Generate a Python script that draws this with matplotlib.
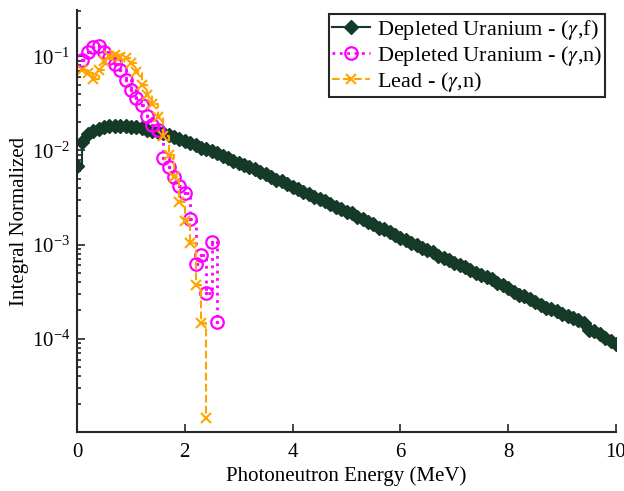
import matplotlib
matplotlib.use('Agg')
import matplotlib.pyplot as plt
import numpy as np

# energy grid (MeV) of the 0.1 MeV bins
e_fission = np.round(np.arange(0, 101) * 0.1, 1)
e_du_n = np.round(np.arange(1, 27) * 0.1, 1)
e_pb_n = np.round(np.arange(1, 25) * 0.1, 1)

# log10 of the normalized integral
du_fission_log = [
    -2.17, -1.91, -1.83, -1.79, -1.77, -1.75, -1.74, -1.74, -1.74, -1.74,
    -1.75, -1.75, -1.76, -1.78, -1.79, -1.80, -1.82, -1.84, -1.86, -1.88,
    -1.90, -1.92, -1.94, -1.97, -1.99, -2.01, -2.03, -2.06, -2.08, -2.11,
    -2.13, -2.15, -2.18, -2.20, -2.23, -2.25, -2.28, -2.31, -2.33, -2.36,
    -2.39, -2.41, -2.44, -2.46, -2.49, -2.52, -2.54, -2.57, -2.60, -2.62,
    -2.65, -2.67, -2.71, -2.73, -2.76, -2.78, -2.82, -2.84, -2.87, -2.90,
    -2.93, -2.95, -2.98, -3.00, -3.04, -3.06, -3.08, -3.12, -3.14, -3.16,
    -3.20, -3.22, -3.24, -3.27, -3.30, -3.32, -3.34, -3.37, -3.41, -3.43,
    -3.46, -3.50, -3.54, -3.55, -3.58, -3.61, -3.64, -3.67, -3.69, -3.71,
    -3.74, -3.76, -3.78, -3.80, -3.83, -3.91, -3.92, -3.95, -3.99, -4.03,
    -4.06,
]
du_n_log = [
    -1.04, -0.95, -0.90, -0.89, -0.95, -1.02, -1.08, -1.15, -1.25, -1.36,
    -1.44, -1.52, -1.63, -1.73, -1.78, -2.08, -2.18, -2.28, -2.38, -2.45,
    -2.73, -3.21, -3.11, -3.51, -2.97, -3.82,
]
pb_n_log = [
    -1.15, -1.18, -1.24, -1.15, -1.05, -1.00, -0.99, -1.01, -1.02, -1.07,
    -1.17, -1.30, -1.41, -1.51, -1.64, -1.85, -2.05, -2.28, -2.55, -2.75,
    -2.98, -3.43, -3.83, -4.84,
]

labels = ['Depleted Uranium - ($\\gamma$,f)',
          'Depleted Uranium - ($\\gamma$,n)',
          'Lead - ($\\gamma$,n)']

plt.rcParams['font.family'] = ['Liberation Serif', 'DejaVu Serif']
plt.rcParams['mathtext.fontset'] = 'stix'
plt.rcParams['font.size'] = 15

fig = plt.figure(figsize=(6.24, 4.91), dpi=100)
ax = fig.add_axes([0.1234, 0.1202, 0.8638, 0.8594])

green = '#153a28'
pink = '#ff00ff'
orange = '#ffa500'

du_f = 10.0 ** np.array(du_fission_log)
du_n = 10.0 ** np.array(du_n_log)
pb_n = 10.0 ** np.array(pb_n_log)

ax.step(e_fission, du_f, where='post', color=green, lw=1.5,
        marker='D', ms=7, mfc=green, mec=green, label=labels[0])
ax.step(e_du_n, du_n, where='post', color=pink, lw=2, ls=':',
        marker='o', ms=9, mfc='none', mec=pink, mew=1.6, label=labels[1])
ax.plot(e_du_n, du_n, ls='none', marker='.', ms=3, color=pink)
ax.step(e_pb_n, pb_n, where='post', color=orange, lw=1.5, ls='--',
        marker='x', ms=7, mew=1.5, label=labels[2])

ax.set_yscale('log')
ax.set_xlim(0, 10)
ax.set_ylim(1.02e-5, 0.31)
ax.set_xticks([0, 2, 4, 6, 8, 10])

for side in ['top', 'right']:
    ax.spines[side].set_visible(False)
for side in ['left', 'bottom']:
    ax.spines[side].set_linewidth(1.5)
    ax.spines[side].set_color('#262626')
ax.tick_params(which='both', direction='in', color='#262626', width=1.2)
ax.tick_params(which='major', length=6)
ax.tick_params(axis='y', which='major', pad=5)
ax.tick_params(axis='x', which='major', pad=8)
ax.tick_params(which='minor', length=3)
ax.tick_params(axis='x', which='minor', bottom=False)

ax.set_xlabel('Photoneutron Energy (MeV)', labelpad=3)
ax.set_ylabel('Integral Normalized', labelpad=2)

leg = ax.legend(loc='upper right', bbox_to_anchor=(0.98, 0.99),
                borderaxespad=0, fancybox=False, framealpha=1,
                edgecolor='#262626', handlelength=1.7, handletextpad=0.3,
                borderpad=0.15, labelspacing=0.1, fontsize=16)
leg.get_frame().set_linewidth(1.5)

fig.savefig('out.png', dpi=100)
